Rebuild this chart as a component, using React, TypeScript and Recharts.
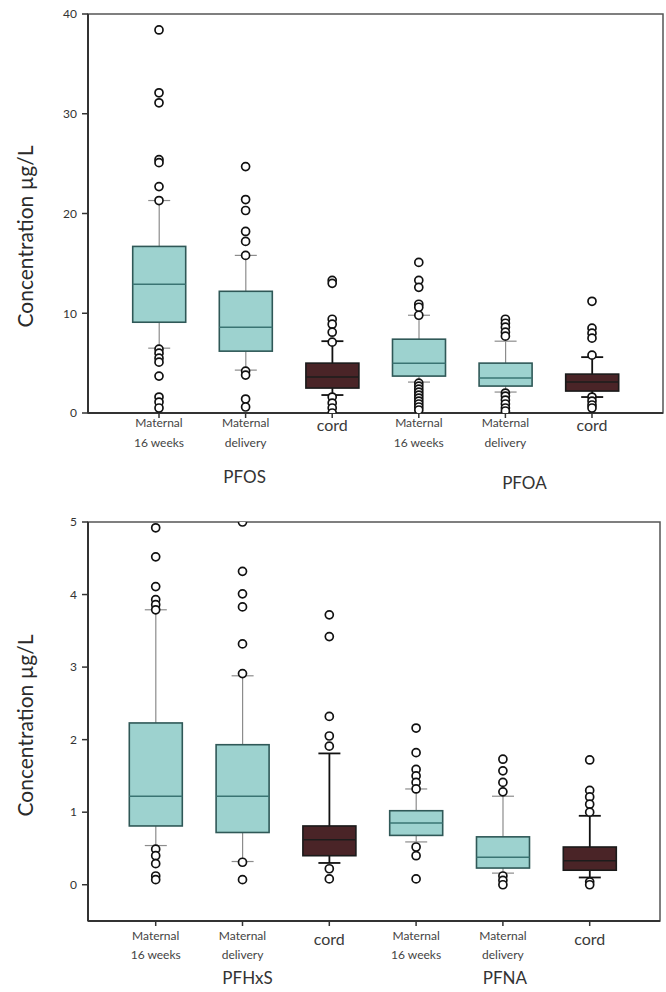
import { ComposedChart, Bar, Scatter, XAxis, YAxis, ReferenceArea } from 'recharts';

// tick labels under each box (same six columns in both panels)
const categories = [
  ['Maternal', '16 weeks'],
  ['Maternal', 'delivery'],
  ['cord'],
  ['Maternal', '16 weeks'],
  ['Maternal', 'delivery'],
  ['cord'],
];
const sampleKinds = ['maternal', 'maternal', 'cord', 'maternal', 'maternal', 'cord'];

// PFOS / PFOA panel
const topGroups = ['PFOS', 'PFOA'];
const topTicks = [0, 10, 20, 30, 40];
const topMin = [6.5, 4.3, 1.8, 3.1, 2.1, 1.6];
const topQ1 = [9.1, 6.2, 2.5, 3.7, 2.7, 2.2];
const topMedian = [12.9, 8.6, 3.6, 5.0, 3.5, 3.1];
const topQ3 = [16.7, 12.2, 5.0, 7.4, 5.0, 3.9];
const topMax = [21.3, 15.8, 7.2, 9.8, 7.2, 5.6];
const topOutliers = [
  [38.4, 32.1, 31.1, 25.4, 25.1, 22.7, 21.3, 6.4, 6.0, 5.5, 5.1, 3.7, 1.6, 1.1, 0.5],
  [24.7, 21.4, 20.3, 18.2, 17.2, 15.8, 4.2, 3.8, 1.4, 0.6],
  [13.3, 13.0, 9.4, 8.9, 8.1, 7.1, 1.6, 1.0, 0.5, 0.0],
  [15.1, 13.3, 12.6, 10.9, 10.6, 9.8, 3.0, 2.7, 2.4, 2.1, 1.8, 1.5, 1.2, 0.9, 0.6, 0.3],
  [9.4, 9.0, 8.6, 8.1, 7.7, 2.0, 1.7, 1.3, 0.9, 0.5, 0.2],
  [11.2, 8.5, 8.0, 7.5, 5.8, 1.6, 1.2, 0.8, 0.5],
];

// PFHxS / PFNA panel
const bottomGroups = ['PFHxS', 'PFNA'];
const bottomTicks = [0, 1, 2, 3, 4, 5];
const bottomMin = [0.54, 0.32, 0.3, 0.59, 0.16, 0.1];
const bottomQ1 = [0.81, 0.72, 0.4, 0.68, 0.23, 0.2];
const bottomMedian = [1.22, 1.22, 0.62, 0.85, 0.38, 0.33];
const bottomQ3 = [2.23, 1.93, 0.81, 1.02, 0.66, 0.52];
const bottomMax = [3.79, 2.88, 1.81, 1.32, 1.22, 0.95];
const bottomOutliers = [
  [4.92, 4.52, 4.11, 3.93, 3.86, 3.79, 0.49, 0.4, 0.29, 0.12, 0.07],
  [5.0, 4.32, 4.01, 3.83, 3.32, 2.91, 0.31, 0.07],
  [3.72, 3.42, 2.32, 2.05, 1.91, 0.22, 0.08],
  [2.16, 1.82, 1.59, 1.5, 1.41, 1.32, 0.52, 0.4, 0.08],
  [1.73, 1.57, 1.41, 1.28, 0.12, 0.06, 0.0],
  [1.72, 1.3, 1.21, 1.11, 1.0, 0.04, 0.0],
];

const FONT = 'Lato, "Open Sans", sans-serif';

const BoxShape = (props: any) => {
  const { x, y, width, height, payload } = props;
  if (payload == null || height == null) return null;
  const top = Math.min(y, y + height);
  const h = Math.abs(height);
  const k = h / (payload.q3 - payload.q1);
  const yOf = (v: number) => top + (payload.q3 - v) * k;
  const cx = x + width / 2;
  const cord = payload.kind === 'cord';
  const whisk = cord ? '#111' : '#8c8c8c';
  const ww = cord ? 1.8 : 1.2;
  const cap = 11;
  return (
    <g>
      <line x1={cx} x2={cx} y1={yOf(payload.max)} y2={top} stroke={whisk} strokeWidth={ww} />
      <line x1={cx} x2={cx} y1={top + h} y2={yOf(payload.min)} stroke={whisk} strokeWidth={ww} />
      <line x1={cx - cap} x2={cx + cap} y1={yOf(payload.max)} y2={yOf(payload.max)} stroke={whisk} strokeWidth={ww} />
      <line x1={cx - cap} x2={cx + cap} y1={yOf(payload.min)} y2={yOf(payload.min)} stroke={whisk} strokeWidth={ww} />
      <rect
        x={x}
        y={top}
        width={width}
        height={h}
        fill={cord ? '#4a2427' : '#9dd2cf'}
        stroke={cord ? '#1a1a1a' : '#2f5857'}
        strokeWidth={1.6}
      />
      <line
        x1={x}
        x2={x + width}
        y1={yOf(payload.median)}
        y2={yOf(payload.median)}
        stroke={cord ? '#1c1c1c' : '#3a7473'}
        strokeWidth={1.5}
      />
    </g>
  );
};

const Outlier = (props: any) => (
  <circle cx={props.cx} cy={props.cy} r={4} fill="#fff" stroke="#111" strokeWidth={1.7} />
);

function Panel({
  min, q1, median, q3, max, outliers, groups, yDomain, yTicks, xDomain,
  height, margin, xAxisHeight, labelShift, lines, groupAt,
}: any) {
  const rows = categories.map((_, i) => ({
    x: i,
    box: [q1[i], q3[i]],
    min: min[i],
    q1: q1[i],
    median: median[i],
    q3: q3[i],
    max: max[i],
    kind: sampleKinds[i],
  }));
  const points = outliers.flatMap((vals: number[], i: number) => vals.map((v) => ({ x: i, y: v })));

  const renderTick = (p: any) => {
    const i = Math.round(p.payload.value);
    const txt = categories[i];
    const g = groupAt.findIndex((a: any) => a.tick === i);
    return (
      <g transform={`translate(${p.x},${p.y})`}>
        {txt.length === 1 ? (
          <text x={0} y={lines.cord} textAnchor="middle" fontSize={16} fill="#3a3a3a" fontFamily={FONT}>
            {txt[0]}
          </text>
        ) : (
          txt.map((t, j) => (
            <text key={t} x={0} y={j === 0 ? lines.first : lines.second} textAnchor="middle" fontSize={12}
              fill="#444" fontFamily={FONT}>
              {t}
            </text>
          ))
        )}
        {g >= 0 && (
          <text x={groupAt[g].dx} y={lines.group + groupAt[g].dy} textAnchor="middle" fontSize={17}
            fill="#333" fontFamily={FONT}>
            {groups[g]}
          </text>
        )}
      </g>
    );
  };

  const yLabel = (p: any) => {
    const vb = p.viewBox;
    const cx = vb.x + 24;
    const cy = vb.y + vb.height / 2 + labelShift;
    return (
      <text x={cx} y={cy} transform={`rotate(-90 ${cx} ${cy})`} textAnchor="middle" dominantBaseline="central"
        fontSize={21} fill="#2a2a2a" fontFamily={FONT}>
        Concentration µg/L
      </text>
    );
  };

  return (
    <ComposedChart width={666} height={height} data={rows} margin={margin}>
      <ReferenceArea x1={xDomain[0]} x2={xDomain[1]} y1={yDomain[0]} y2={yDomain[1]} fill="none"
        stroke="#555" strokeWidth={1.5} ifOverflow="visible" />
      <XAxis
        type="number"
        dataKey="x"
        domain={xDomain}
        ticks={[0, 1, 2, 3, 4, 5]}
        allowDataOverflow
        interval={0}
        height={xAxisHeight}
        tickSize={5}
        tickMargin={0}
        axisLine={{ stroke: '#333', strokeWidth: 2 }}
        tickLine={{ stroke: '#333', strokeWidth: 1.5 }}
        tick={renderTick}
      />
      <YAxis
        type="number"
        domain={yDomain}
        ticks={yTicks}
        allowDataOverflow
        width={88}
        tickSize={6}
        tickMargin={5}
        axisLine={{ stroke: '#333', strokeWidth: 2 }}
        tickLine={{ stroke: '#333', strokeWidth: 1.5 }}
        tick={{ fontSize: 12, fill: '#333', fontFamily: FONT }}
        label={{ content: yLabel }}
      />
      <Bar dataKey="box" barSize={53} shape={BoxShape} isAnimationActive={false} />
      <Scatter data={points} dataKey="y" shape={Outlier} isAnimationActive={false} />
    </ComposedChart>
  );
}

export default function App() {
  return (
    <div style={{ position: 'absolute', left: 0, top: 0, width: 666, height: 992, background: '#fff' }}>
      <div style={{ position: 'absolute', left: 0, top: 0 }}>
        <Panel
          min={topMin} q1={topQ1} median={topMedian} q3={topQ3} max={topMax} outliers={topOutliers}
          groups={topGroups} yDomain={[0, 40]} yTicks={topTicks} xDomain={[-0.82, 5.82]}
          height={500} margin={{ top: 14, right: 3, bottom: 0, left: 0 }} xAxisHeight={87}
          labelShift={23}
          lines={{ first: 9, second: 29, cord: 13, group: 65 }}
          groupAt={[{ tick: 1, dx: -1, dy: 0 }, { tick: 4, dx: 19, dy: 6 }]}
        />
      </div>
      <div style={{ position: 'absolute', left: 0, top: 500 }}>
        <Panel
          min={bottomMin} q1={bottomQ1} median={bottomMedian} q3={bottomQ3} max={bottomMax} outliers={bottomOutliers}
          groups={bottomGroups} yDomain={[-0.5, 5]} yTicks={bottomTicks} xDomain={[-0.78, 5.81]}
          height={492} margin={{ top: 22, right: 6, bottom: 0, left: 0 }} xAxisHeight={71}
          labelShift={4}
          lines={{ first: 14, second: 33, cord: 19, group: 58 }}
          groupAt={[{ tick: 1, dx: 5, dy: 0 }, { tick: 4, dx: 2, dy: 0 }]}
        />
      </div>
    </div>
  );
}
